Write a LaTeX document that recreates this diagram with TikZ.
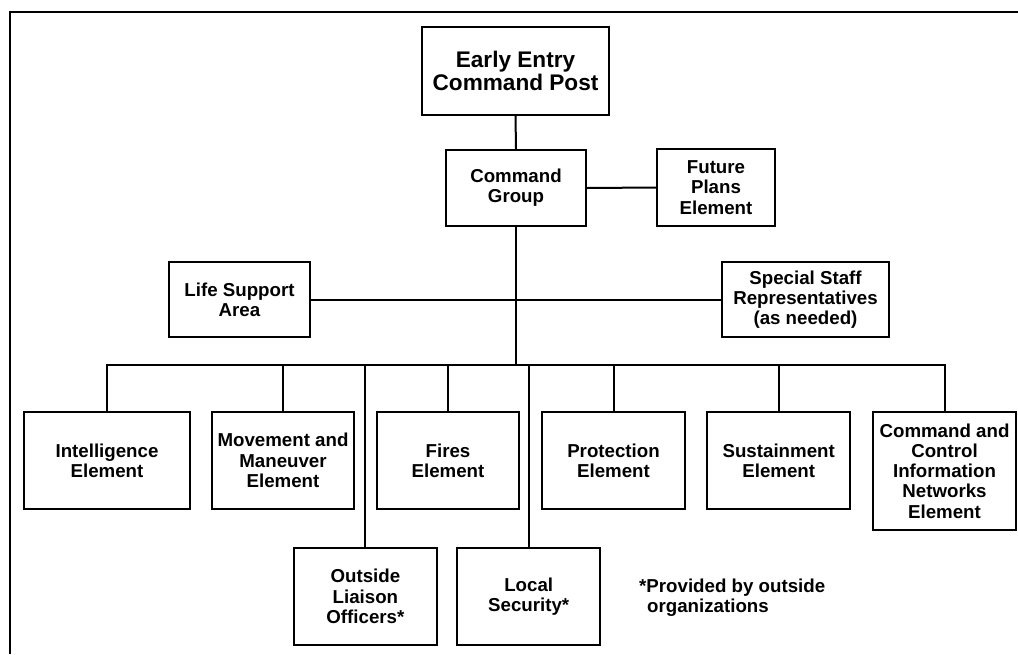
\documentclass[tikz,border=0pt]{standalone}
\usepackage{fontspec}
\setmainfont{Liberation Sans}
\begin{document}
\begin{tikzpicture}[x=1pt,y=-1pt,
  box/.style={draw,line width=2.2pt,align=center,inner sep=0pt,
    font=\bfseries\fontsize{18.7}{20.2}\selectfont},
  bigbox/.style={box,font=\bfseries\fontsize{22.6}{23.5}\selectfont},
  link/.style={line width=2pt},
  frameline/.style={line width=2.5pt}]
\useasboundingbox (0,0) rectangle (1018,654);
% frame
\coordinate (fbl) at (10,654);
\coordinate (ftl) at (10,12);
\coordinate (ftr) at (1018,12);
\draw[frameline] (fbl) -- (ftl) -- (ftr);
% nodes
\node[bigbox,minimum width=187pt,minimum height=88pt] (ee) at (515.5,71) {Early Entry\\Command Post};
\node[box,minimum width=140pt,minimum height=76pt] (cg) at (516,188) {Command\\Group};
\node[box,minimum width=118pt,minimum height=77pt] (fp) at (716,187.5) {Future\\Plans\\Element};
\node[box,minimum width=141pt,minimum height=75pt] (ls) at (239.5,299.5) {Life Support\\Area};
\node[box,minimum width=167pt,minimum height=75pt] (ss) at (805.5,299.5) {Special Staff\\Representatives\\(as needed)};
\node[box,minimum width=166pt,minimum height=97pt] (intel) at (107,460.5) {Intelligence\\Element};
\node[box,minimum width=142pt,minimum height=97pt] (mm) at (283,460.5) {Movement and\\Maneuver\\Element};
\node[box,minimum width=142pt,minimum height=97pt] (fires) at (448,460.5) {Fires\\Element};
\node[box,minimum width=143pt,minimum height=97pt] (prot) at (613.5,460.5) {Protection\\Element};
\node[box,minimum width=143pt,minimum height=97pt] (sust) at (778.7,460.5) {Sustainment\\Element};
\node[box,minimum width=143pt,minimum height=118pt] (cc) at (944.5,471) {Command and\\Control\\Information\\Networks\\Element};
\node[box,minimum width=143pt,minimum height=97pt] (ol) at (365.4,596.5) {Outside\\Liaison\\Officers*};
\node[box,minimum width=143pt,minimum height=97pt] (lsec) at (528.7,596.5) {Local\\Security*};
\node[anchor=west,align=left,inner sep=0pt,font=\bfseries\fontsize{18.7}{20.7}\selectfont] (note) at (639,597.6) {*Provided by outside\\\hspace*{8pt}organizations};
% connectors
\coordinate (bus) at (516,365);
\draw[link] (ee.south) -- (cg.north);
\draw[link] (cg.east) -- (fp.west);
\draw[link] (ls.east) -- (ss.west);
\draw[link] (cg.south) -- (bus);
\draw[link] (intel.north) |- (bus);
\draw[link] (mm.north) |- (bus);
\draw[link] (ol.north) |- (bus);
\draw[link] (fires.north) |- (bus);
\draw[link] (lsec.north) |- (bus);
\draw[link] (prot.north) |- (bus);
\draw[link] (sust.north) |- (bus);
\draw[link] (cc.north) |- (bus);
\end{tikzpicture}
\end{document}
